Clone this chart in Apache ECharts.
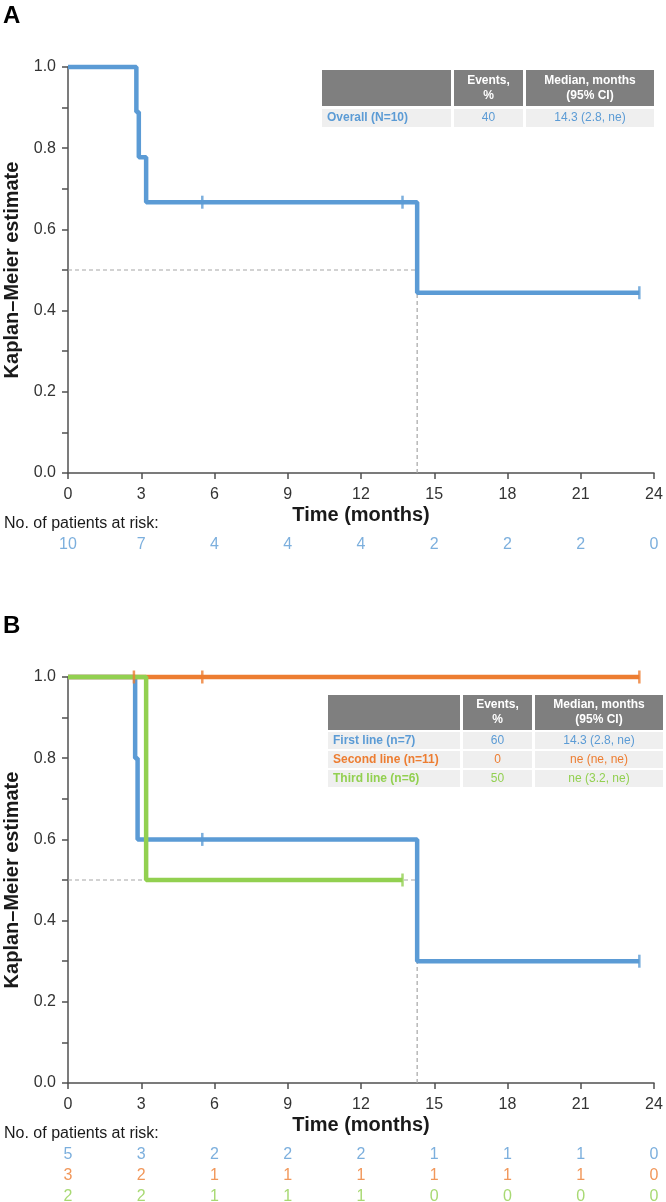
<!DOCTYPE html>
<html><head><meta charset="utf-8">
<script src="https://cdn.jsdelivr.net/npm/echarts@6/dist/echarts.min.js"></script>
<style>html,body{margin:0;padding:0;background:#fff}#c{width:666px;height:1202px}</style>
</head><body><div id="c"></div>
<script>
// ---------- data ----------
const xTicks = [0, 3, 6, 9, 12, 15, 18, 21, 24];

// Panel A: overall
const aTimes = [0, 2.8, 2.9, 3.2, 14.3, 23.4];
const aSurv  = [1.0, 0.889, 0.778, 0.667, 0.444, 0.444];
const aCensor = [5.5, 13.7, 23.4];
const aMedian = 14.3;
const riskA = [10, 7, 4, 4, 4, 2, 2, 2, 0];

// Panel B: by line of therapy
const b1Times = [0, 2.75, 2.85, 14.3, 23.4];
const b1Surv  = [1.0, 0.8, 0.6, 0.3, 0.3];
const b1Censor = [5.5, 23.4];
const b2Times = [0, 23.4];
const b2Surv  = [1.0, 1.0];
const b2Censor = [2.7, 5.5, 23.4];
const b3Times = [0, 3.2, 13.7];
const b3Surv  = [1.0, 0.5, 0.5];
const b3Censor = [13.7];
const bMedian = 14.3;
const riskB1 = [5, 3, 2, 2, 2, 1, 1, 1, 0];
const riskB2 = [3, 2, 1, 1, 1, 1, 1, 1, 0];
const riskB3 = [2, 2, 1, 1, 1, 0, 0, 0, 0];

// tables
const tableHeader = ['', 'Events,\n%', 'Median, months\n(95% CI)'];
const tableA = [['Overall (N=10)', '40', '14.3 (2.8, ne)']];
const tableB = [['First line (n=7)', '60', '14.3 (2.8, ne)'],
                ['Second line (n=11)', '0', 'ne (ne, ne)'],
                ['Third line (n=6)', '50', 'ne (3.2, ne)']];

// ---------- style ----------
const BLUE = '#5B9BD5', ORANGE = '#ED7D31', GREEN = '#92D050';
const FONT = '"Liberation Sans", Arial, sans-serif';
const AX = '#505050';

function zip(t, s) { return t.map((v, i) => [v, s[i]]); }
function survAt(t, s, x) { let v = s[0]; for (let i = 0; i < t.length; i++) if (t[i] <= x) v = s[i]; return v; }

const chart = echarts.init(document.getElementById('c'), null, {renderer: 'canvas'});

const L = 68, R = 12;
const grids = [
  {left: L, right: R, top: 67, height: 406, outerBoundsMode: 'none', containLabel: false},
  {left: L, right: R, top: 677, height: 406, outerBoundsMode: 'none', containLabel: false},
  {left: L, right: R, top: 535, height: 20, outerBoundsMode: 'none', containLabel: false},
  {left: L, right: R, top: 1144, height: 63, outerBoundsMode: 'none', containLabel: false}
];

function mainX(gi) {
  return {type: 'value', gridIndex: gi, min: 0, max: 24, interval: 3,
    name: 'Time (months)', nameLocation: 'middle', nameGap: 32,
    nameTextStyle: {fontFamily: FONT, fontSize: 20, fontWeight: 'bold', color: '#1a1a1a'},
    axisLine: {show: true, onZero: false, lineStyle: {color: AX, width: 1.5}},
    axisTick: {show: true, length: 6, lineStyle: {color: AX, width: 1.5}},
    axisLabel: {fontFamily: FONT, fontSize: 16, color: '#333', margin: 14},
    splitLine: {show: false}};
}
function mainY(gi) {
  return {type: 'value', gridIndex: gi, min: 0, max: 1, interval: 0.1,
    name: 'Kaplan–Meier estimate', nameLocation: 'middle', nameGap: 39, nameRotate: 90,
    nameTextStyle: {fontFamily: FONT, fontSize: 20, fontWeight: 'bold', color: '#1a1a1a'},
    axisLine: {show: true, lineStyle: {color: AX, width: 1.5}},
    axisTick: {show: true, length: 6, lineStyle: {color: AX, width: 1.5}},
    axisLabel: {fontFamily: FONT, fontSize: 16, color: '#333', margin: 12,
      formatter: v => (Math.round(v * 10) % 2 === 0 ? v.toFixed(1) : '')},
    splitLine: {show: false}};
}
function hiddenX(gi) { return {type: 'value', gridIndex: gi, min: 0, max: 24, show: false}; }
function hiddenY(gi, n) { return {type: 'value', gridIndex: gi, min: -0.5, max: n - 0.5, inverse: true, show: false}; }

function kmLine(x, t, s, color) {
  return {type: 'line', xAxisIndex: x, yAxisIndex: x, step: 'end', data: zip(t, s), symbol: 'none',
    clip: false, lineStyle: {color: color, width: 4.5}, z: 3, silent: true, animation: false};
}
function censor(x, t, s, c, color) {
  return {type: 'scatter', xAxisIndex: x, yAxisIndex: x, symbol: 'rect', symbolSize: [2.5, 13],
    data: c.map(v => [v, survAt(t, s, v)]), itemStyle: {color: color}, z: 5, clip: false, animation: false};
}
function dashed(x, data) {
  return {type: 'line', xAxisIndex: x, yAxisIndex: x, data: data, symbol: 'none',
    lineStyle: {color: '#A6A6A6', width: 1.2, type: [4, 3]}, z: 1, animation: false};
}
function riskRow(x, row, vals, color) {
  return {type: 'scatter', xAxisIndex: x, yAxisIndex: x, symbolSize: 0,
    data: xTicks.map((t, i) => [t, row, vals[i]]),
    label: {show: true, position: 'inside', formatter: p => String(p.data[2]),
      fontFamily: FONT, fontSize: 16, color: color}, animation: false};
}

const series = [
  dashed(0, [[0, 0.5], [aMedian, 0.5]]),
  dashed(0, [[aMedian, 0], [aMedian, survAt(aTimes, aSurv, aMedian)]]),
  kmLine(0, aTimes, aSurv, BLUE),
  censor(0, aTimes, aSurv, aCensor, BLUE),

  dashed(1, [[0, 0.5], [bMedian, 0.5]]),
  dashed(1, [[bMedian, 0], [bMedian, survAt(b1Times, b1Surv, bMedian)]]),
  kmLine(1, b1Times, b1Surv, BLUE),
  kmLine(1, b2Times, b2Surv, ORANGE),
  kmLine(1, b3Times, b3Surv, GREEN),
  censor(1, b1Times, b1Surv, b1Censor, BLUE),
  censor(1, b2Times, b2Surv, b2Censor, ORANGE),
  censor(1, b3Times, b3Surv, b3Censor, GREEN),

  riskRow(2, 0, riskA, BLUE),
  riskRow(3, 0, riskB1, BLUE),
  riskRow(3, 1, riskB2, ORANGE),
  riskRow(3, 2, riskB3, GREEN)
];

// ---------- tables (graphic) ----------
function table(x0, colW, gap, headTop, headH, rowH, rowGap, rows, colors) {
  const els = [];
  let x = x0;
  colW.forEach((w, ci) => {
    els.push({type: 'rect', shape: {x: x, y: headTop, width: w, height: headH}, style: {fill: '#7F7F7F'}});
    if (tableHeader[ci]) {
      els.push({type: 'text', x: x + w / 2, y: headTop + headH / 2,
        style: {text: tableHeader[ci], fill: '#fff', font: 'bold 12px ' + FONT, align: 'center', verticalAlign: 'middle', lineHeight: 15}});
    }
    rows.forEach((r, ri) => {
      const y = headTop + headH + rowGap + ri * (rowH + rowGap);
      els.push({type: 'rect', shape: {x: x, y: y, width: w, height: rowH}, style: {fill: '#EFEFEF'}});
      els.push({type: 'text', x: ci === 0 ? x + 5 : x + w / 2, y: y + rowH / 2,
        style: {text: r[ci], fill: colors[ri], font: (ci === 0 ? 'bold ' : '') + '12px ' + FONT,
          align: ci === 0 ? 'left' : 'center', verticalAlign: 'middle'}});
    });
    x += w + gap;
  });
  return els;
}

const graphics = [
  {type: 'text', x: 3, y: 4, style: {text: 'A', font: 'bold 24px ' + FONT, fill: '#000'}},
  {type: 'text', x: 3, y: 614, style: {text: 'B', font: 'bold 24px ' + FONT, fill: '#000'}},
  {type: 'text', x: 4, y: 524, style: {text: 'No. of patients at risk:', font: '16px ' + FONT, fill: '#1a1a1a', verticalAlign: 'middle'}},
  {type: 'text', x: 4, y: 1134, style: {text: 'No. of patients at risk:', font: '16px ' + FONT, fill: '#1a1a1a', verticalAlign: 'middle'}}
].concat(
  table(322, [129, 69, 128], 3, 70, 36, 18, 3, tableA, [BLUE]),
  table(328, [132, 69, 128], 3, 695, 35, 17, 2, tableB, [BLUE, ORANGE, GREEN])
);

chart.setOption({
  animation: false,
  grid: grids,
  xAxis: [mainX(0), mainX(1), hiddenX(2), hiddenX(3)],
  yAxis: [mainY(0), mainY(1), hiddenY(2, 1), hiddenY(3, 3)],
  series: series,
  graphic: graphics
});
</script>
</body></html>
